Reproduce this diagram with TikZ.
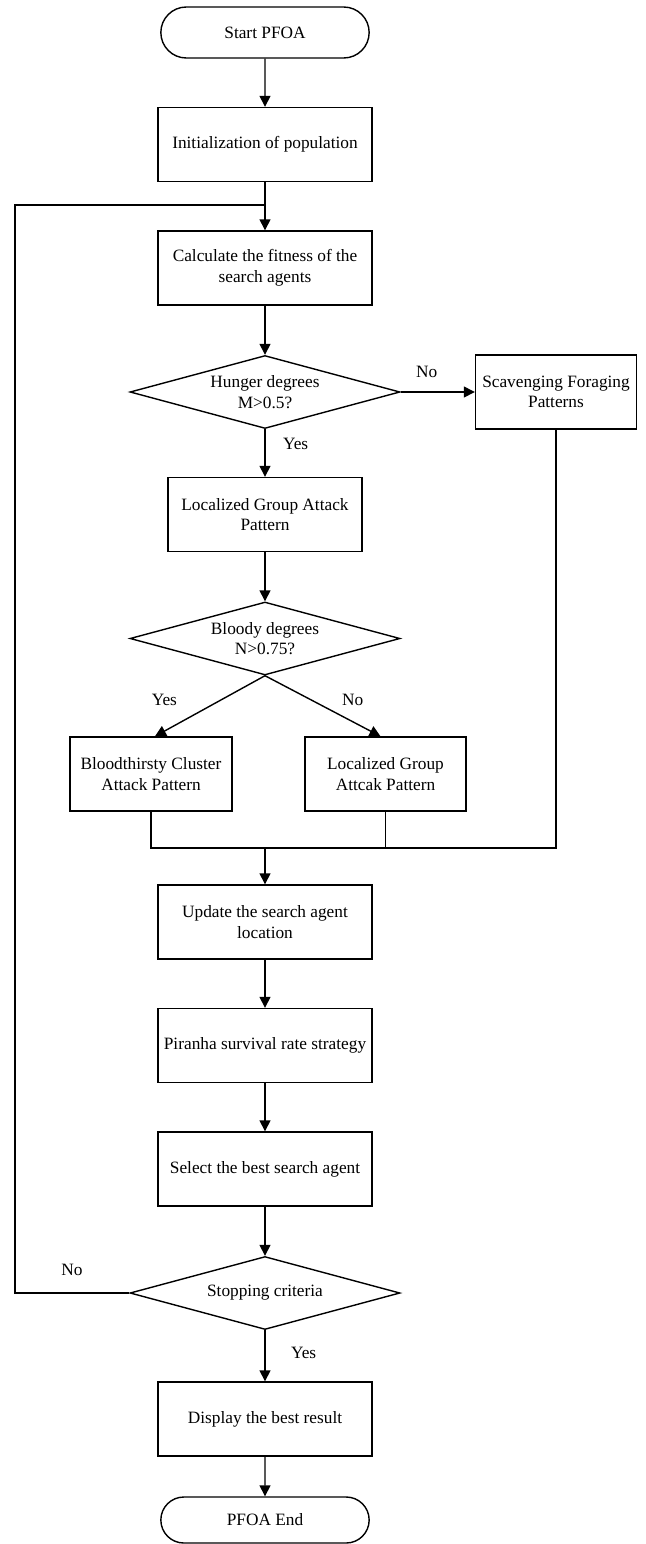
\documentclass[tikz,border=0pt]{standalone}
\usepackage{fontspec}
\setmainfont{Liberation Serif}
\usetikzlibrary{shapes.geometric,shapes.misc,arrows.meta,calc}

\begin{document}
\begin{tikzpicture}[x=1pt,y=-1pt,
    every node/.style={font=\fontsize{17.3}{20.7}\selectfont},
    process/.style={draw, line width=1.4pt, minimum width=214pt, minimum height=74pt, align=center, inner sep=2pt},
    terminal/.style={draw, line width=1.4pt, rounded rectangle, minimum width=215pt, minimum height=51pt},
    decision/.style={draw, line width=1.4pt, diamond, aspect=3.7, minimum width=270pt, minimum height=73pt, inner sep=0pt, align=center},
    flow/.style={->, >={Triangle[length=11pt,width=11pt]}, line width=1.4pt},
    link/.style={line width=1.4pt}]
    \useasboundingbox (0,0) rectangle (645,1544);

    % Main column
    \pgfmathsetmacro{\cx}{265};
    \node[terminal] (start) at (\cx,32.5) {Start PFOA};
    \node[process] (init) at (\cx,144.5) {Initialization of population};
    \node[process] (calc) at (\cx,268) {Calculate the fitness of the\\search agents};
    \node[decision] (hunger) at (\cx,392) {Hunger degrees\\M>0.5?};
    \node[process, minimum width=161pt] (scav) at (556,392) {Scavenging Foraging\\Patterns};
    \node[process, minimum width=194pt] (local) at (\cx,514.5) {Localized Group Attack\\Pattern};
    \node[decision] (bloody) at (\cx,638.5) {Bloody degrees\\N>0.75?};
    \node[process, minimum width=162pt] (blood) at (151,774) {Bloodthirsty Cluster\\Attack Pattern};
    \node[process, minimum width=161pt] (localb) at (385.5,774) {Localized Group\\Attcak Pattern};
    \node[process] (update) at (\cx,922) {Update the search agent\\location};
    \node[process] (survive) at (\cx,1045.5) {Piranha survival rate strategy};
    \node[process] (select) at (\cx,1169) {Select the best search agent};
    \node[decision] (stop) at (\cx,1293) {Stopping criteria};
    \node[process] (show) at (\cx,1419) {Display the best result};
    \node[terminal, minimum height=46pt] (finish) at (\cx,1520) {PFOA End};

    % Junction points
    \coordinate (join) at (\cx,205);
    \coordinate (loop) at (15,205);
    \coordinate (merge) at (\cx,848);

    % Straight flow
    \draw[flow] (start) -- (init);
    \draw[flow] (init) -- (calc);
    \draw[flow] (calc) -- (hunger);
    \draw[flow] (hunger) -- (local) node[pos=0.3, right, xshift=14pt]{Yes};
    \draw[flow] (hunger.east) -- (scav.west) node[pos=0.35, above, yshift=10pt]{No};
    \draw[flow] (local) -- (bloody);
    \draw[flow] (bloody.south) -- ($(blood.north)+(4,0)$) node[pos=0.4, left, xshift=-40pt]{Yes};
    \draw[flow] (bloody.south) -- ($(localb.north)+(-5,0)$) node[pos=0.4, right, xshift=27pt]{No};

    % Collect the three branches
    \draw[link] (blood.south) |- (merge) -| (scav.south);
    \draw[link] (localb.south) -- (localb.south |- merge);
    \draw[flow] (merge) -- (update);
    \draw[flow] (update) -- (survive);
    \draw[flow] (survive) -- (select);
    \draw[flow] (select) -- (stop);
    \draw[flow] (stop) -- (show) node[pos=0.45, right, xshift=22pt]{Yes};
    \draw[flow] (show) -- (finish);

    % Back to the fitness step
    \draw[link] (stop.west) -| (loop) -- (join);
    \node at (72,1270) {No};
\end{tikzpicture}
\end{document}
